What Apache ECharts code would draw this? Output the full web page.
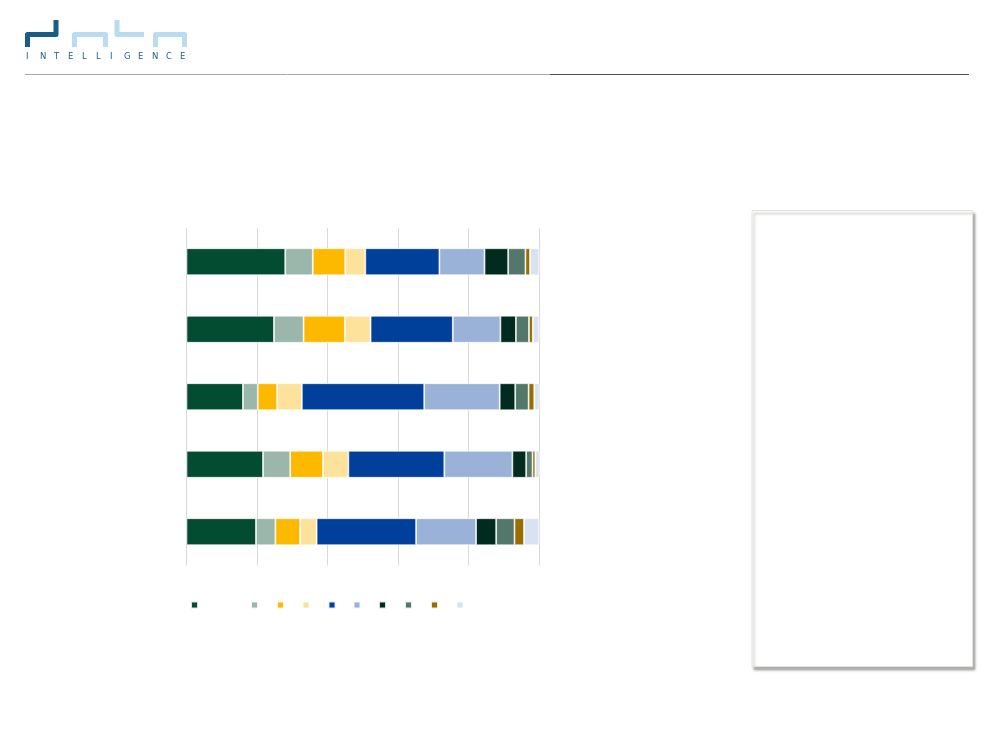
<!DOCTYPE html>
<html>
<head>
<meta charset="utf-8">
<script src="https://cdn.jsdelivr.net/npm/echarts@6/dist/echarts.min.js"></script>
<style>
html,body{margin:0;padding:0;background:#fff;}
#chart{width:1000px;height:750px;}
</style>
</head>
<body>
<div id="chart"></div>
<script>
// Data (percent shares, 100% stacked)
var categories = ['Cat 1', 'Cat 2', 'Cat 3', 'Cat 4', 'Cat 5'];
var seriesNames = ['Serie 1','Serie 2','Serie 3','Serie 4','Serie 5','Serie 6','Serie 7','Serie 8','Serie 9','Serie 10'];
var s1  = [28.0, 24.8, 16.0, 21.7, 19.7];
var s2  = [7.8, 8.4, 4.2, 7.7, 5.5];
var s3  = [9.2, 11.7, 5.5, 9.3, 7.0];
var s4  = [5.7, 7.3, 7.0, 7.2, 4.7];
var s5  = [21.0, 23.3, 34.7, 27.2, 28.2];
var s6  = [12.8, 13.5, 21.4, 19.3, 17.0];
var s7  = [6.7, 4.4, 4.4, 3.9, 5.7];
var s8  = [4.9, 3.7, 3.8, 1.8, 5.2];
var s9  = [1.3, 1.1, 1.6, 0.8, 2.7];
var s10 = [2.6, 1.8, 1.5, 1.2, 4.3];
var xTicks = [0, 20, 40, 60, 80, 100];

var allValues = [s1,s2,s3,s4,s5,s6,s7,s8,s9,s10];
var colors = ['#034b31','#9bb7ac','#fdb900','#fde29c','#003f9a','#9ab2d7','#002b1e','#53776a','#986e00','#d9e2f0'];
var legendLeft = [190, 250, 276, 301.5, 327.5, 352.5, 378, 404, 430, 455.5];

var series = allValues.map(function(vals, i){
  return {
    name: seriesNames[i],
    type: 'bar',
    stack: 'total',
    barWidth: 27,
    data: vals,
    itemStyle: {color: colors[i], borderColor: 'rgba(255,255,255,0.85)', borderWidth: 0.8},
    emphasis: {disabled: true}
  };
});

var legends = seriesNames.map(function(n, i){
  return {
    data: [n], left: legendLeft[i], top: 600.5, padding: 0,
    itemWidth: 7, itemHeight: 7, icon: 'rect',
    formatter: function(){ return ''; },
    selectedMode: false
  };
});

var letters = 'INTELLIGENCE'.split('');
var logoText = letters.map(function(ch, i){
  return {type:'text', left: 26 + i*14.0, top: 52,
    style:{text: ch, fill:'#2b5f80', font:'8.5px "DejaVu Sans", sans-serif'}};
});

function logoStroke(points, color){
  return {type:'polyline', shape:{points: points}, style:{fill:null, stroke: color, lineWidth:5, lineJoin:'round', lineCap:'butt'}};
}

var graphics = [
  {type:'line', shape:{x1:25,y1:74.5,x2:550,y2:74.5}, style:{stroke:'#a8a8a8', lineWidth:1}},
  {type:'line', shape:{x1:550,y1:74.5,x2:969,y2:74.5}, style:{stroke:'#505050', lineWidth:1.2}},
  {type:'rect', shape:{x:752,y:210.5,width:220.5,height:456}, style:{fill:'#fff', stroke:'#e4e2d8', lineWidth:1, shadowBlur:2.5, shadowOffsetX:2, shadowOffsetY:3, shadowColor:'rgba(0,0,0,0.3)'}},
  logoStroke([[27.5,47],[27.5,34.5],[56,34.5],[56,20]], '#1b5c86'),
  logoStroke([[74.5,47],[74.5,34.5],[105.5,34.5],[105.5,47]], '#b9dcf2'),
  logoStroke([[117,20],[117,34.5],[144,34.5]], '#b9dcf2'),
  logoStroke([[155.5,47],[155.5,34.5],[184.5,34.5],[184.5,47]], '#b9dcf2')
].concat(logoText);

var chart = echarts.init(document.getElementById('chart'), null, {renderer:'canvas'});
chart.setOption({
  animation: false,
  backgroundColor: '#fff',
  color: colors,
  grid: {left: 186.5, top: 228, width: 352.7, height: 337.5, containLabel: false},
  xAxis: {
    type: 'value', min: xTicks[0], max: xTicks[xTicks.length-1], interval: xTicks[1]-xTicks[0],
    axisLabel: {show: false}, axisLine: {show: false}, axisTick: {show: false},
    splitLine: {show: true, lineStyle: {color: '#d9d9d9', width: 1}}
  },
  yAxis: {
    type: 'category', data: categories, inverse: true,
    axisLabel: {show: false}, axisLine: {show: false}, axisTick: {show: false}
  },
  legend: legends,
  series: series,
  graphic: graphics
});
</script>
</body>
</html>
